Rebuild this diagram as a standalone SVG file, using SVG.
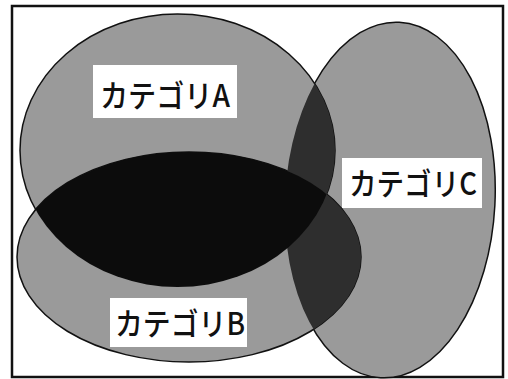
<svg xmlns="http://www.w3.org/2000/svg" width="508" height="379" viewBox="0 0 508 379">
<style>
.set{fill:#9a9a9a;stroke:#111;stroke-width:1.5}
.ab{fill:#0c0c0c}
.xc{fill:#2e2e2e}
.box{fill:#fff}
.lbl{font-family:"Noto Sans CJK JP","Noto Sans",sans-serif;font-size:31px;font-weight:500;fill:#111}
</style>
<defs>
<ellipse id="shapeC" cx="390" cy="200" rx="105" ry="178" transform="rotate(3 390 200)"/>
<clipPath id="clipA"><ellipse cx="177.5" cy="150.5" rx="157.5" ry="136.5"/></clipPath>
<clipPath id="clipB"><ellipse cx="189" cy="257" rx="172" ry="105"/></clipPath>
</defs>
<rect x="0" y="0" width="508" height="379" fill="#fff"/>
<rect x="12" y="6" width="491" height="371" fill="none" stroke="#111" stroke-width="2.5"/>
<g id="setC"><use href="#shapeC" class="set"/></g>
<g id="setA"><ellipse class="set" cx="177.5" cy="150.5" rx="157.5" ry="136.5"/></g>
<g id="setB"><ellipse class="set" cx="189" cy="257" rx="172" ry="105"/></g>
<g id="overlaps">
<g clip-path="url(#clipA)"><use href="#shapeC" class="xc"/></g>
<g clip-path="url(#clipB)"><use href="#shapeC" class="xc"/></g>
<g clip-path="url(#clipA)"><ellipse class="ab" cx="189" cy="257" rx="172" ry="105"/></g>
</g>
<g id="labelA"><rect class="box" x="93" y="65" width="144" height="53"/><text class="lbl" x="100" y="107" textLength="130" lengthAdjust="spacingAndGlyphs">カテゴリA</text></g>
<g id="labelC"><rect class="box" x="342" y="158" width="140" height="50"/><text class="lbl" x="349" y="195" textLength="128" lengthAdjust="spacingAndGlyphs">カテゴリC</text></g>
<g id="labelB"><rect class="box" x="110" y="298" width="137" height="49"/><text class="lbl" x="115" y="335" textLength="130" lengthAdjust="spacingAndGlyphs">カテゴリB</text></g>
</svg>
